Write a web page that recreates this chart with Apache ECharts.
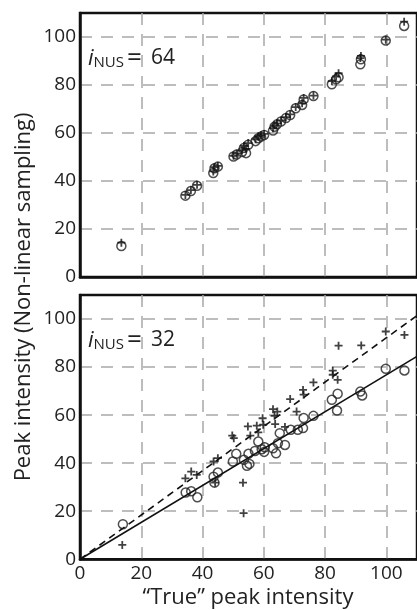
<!DOCTYPE html>
<html>
<head>
<meta charset="utf-8">
<script src="https://cdn.jsdelivr.net/npm/echarts@6/dist/echarts.min.js"></script>
<style>html,body{margin:0;padding:0;background:#fff}#c{width:417px;height:610px}</style>
</head>
<body>
<div id="c"></div>
<script>
// ---- data ----
const xTicks = [0, 20, 40, 60, 80, 100];
const yTicks = [0, 20, 40, 60, 80, 100];

// top panel (i_NUS = 64): true intensity vs. NUS intensity
const topTrue   = [13.5, 34.4, 36.2, 38.2, 43.5, 43.9, 45.0, 50.1, 51.1, 52.9, 54.2, 53.5, 54.9, 57.3, 58.2, 59.1, 60.1, 63.0, 63.5, 64.3, 65.6, 67.2, 68.6, 70.4, 72.5, 73.0, 76.2, 82.2, 83.6, 84.4, 91.5, 91.7, 99.8, 105.8];
const topCircle = [12.9, 33.9, 35.8, 38.0, 43.3, 45.3, 46.0, 50.2, 51.0, 52.1, 51.6, 53.8, 55.1, 56.6, 57.8, 58.5, 59.2, 61.0, 62.6, 63.6, 64.8, 66.2, 67.5, 70.3, 71.7, 74.0, 75.4, 80.3, 82.4, 83.2, 88.6, 90.7, 98.5, 104.6];
const topCross  = [14.3, 34.2, 36.2, 38.4, 44.0, 45.8, 46.3, 50.5, 51.4, 52.8, 53.4, 54.6, 55.8, 57.4, 58.6, 59.0, 59.6, 62.0, 63.2, 64.0, 65.2, 66.6, 67.8, 70.8, 72.4, 74.6, 75.6, 81.6, 83.5, 84.9, 91.2, 92.1, 98.9, 106.4];

// bottom panel (i_NUS = 32)
const botCircleX = [14.0, 34.5, 36.3, 38.3, 43.6, 43.9, 45.0, 49.9, 51.0, 53.5, 54.5, 55.3, 55.0, 57.1, 58.2, 59.3, 60.1, 60.3, 63.0, 64.0, 64.6, 65.2, 66.9, 68.8, 71.1, 73.0, 72.8, 76.2, 82.2, 84.1, 83.9, 91.5, 92.1, 99.8, 105.9];
const botCircleY = [14.6, 27.8, 28.3, 25.8, 34.4, 31.9, 36.1, 40.7, 43.9, 41.4, 38.9, 39.7, 43.9, 45.1, 49.0, 45.8, 44.7, 46.6, 46.2, 44.1, 48.3, 52.5, 47.6, 53.9, 53.9, 58.8, 54.6, 59.7, 66.4, 68.9, 61.9, 69.8, 68.2, 79.3, 78.6];
const botCrossX  = [13.8, 34.4, 36.3, 38.1, 43.6, 44.1, 45.0, 49.7, 50.2, 53.2, 53.4, 54.8, 55.6, 57.7, 58.2, 59.6, 59.8, 63.0, 63.5, 63.7, 64.4, 66.9, 68.6, 70.7, 72.8, 73.0, 76.2, 82.5, 82.5, 84.1, 84.4, 91.8, 99.8, 105.9];
const botCrossY  = [6.0, 33.7, 36.5, 35.1, 40.7, 31.9, 42.1, 51.5, 50.4, 31.9, 19.2, 55.3, 51.5, 55.6, 52.8, 58.7, 56.0, 62.5, 59.7, 56.3, 61.5, 55.1, 66.7, 61.5, 70.5, 68.5, 73.6, 78.5, 76.8, 74.7, 88.9, 89.0, 94.8, 93.4];

// fitted lines through the origin (bottom panel)
const fitX = [0, 110];
const solidSlope = 0.768;
const dashedSlope = 0.922;

// ---- chart ----
const chart = echarts.init(document.getElementById('c'), null, {renderer: 'canvas'});
const FONT = '"Open Sans", "Noto Sans", sans-serif';
const plusPath = 'path://M3.1,0H4.9V3.1H8V4.9H4.9V8H3.1V4.9H0V3.1H3.1Z';

const pair = (xs, ys) => xs.map((x, i) => [x, ys[i]]);

const gridLine = {show: true, showMinLine: false, showMaxLine: false,
  lineStyle: {color: '#a8a8a8', width: 1.5, type: [12, 9]}};

function xAxisCfg(gi, showLabels) {
  return {
    type: 'value', gridIndex: gi, min: 0, max: 110, interval: 20,
    axisLine: {show: true, onZero: false, lineStyle: {color: '#111', width: 2.5}},
    axisTick: {show: false},
    axisLabel: {show: showLabels, fontFamily: FONT, fontSize: 19, color: '#222', margin: 5,
      showMaxLabel: false,
      formatter: v => (xTicks.indexOf(v) >= 0 ? String(v) : '')},
    splitLine: gridLine
  };
}
function yAxisCfg(gi) {
  return {
    type: 'value', gridIndex: gi, min: 0, max: 110, interval: 20,
    axisLine: {show: true, onZero: false, lineStyle: {color: '#111', width: 2.5}},
    axisTick: {show: false},
    axisLabel: {fontFamily: FONT, fontSize: 19, color: '#222', margin: 4,
      showMaxLabel: false,
      formatter: v => (yTicks.indexOf(v) >= 0 ? String(v) : '')},
    splitLine: gridLine
  };
}

const circleStyle = {color: 'rgba(0,0,0,0)', borderColor: '#222', borderWidth: 1.5};
const crossStyle = {color: '#111'};

function nusLabel(yMid, num) {
  return [
    {type: 'text', x: 88, y: yMid, z: 10, style: {text: 'i', font: 'italic 22px ' + FONT, fill: '#222', verticalAlign: 'middle'}},
    {type: 'text', x: 93.5, y: yMid + 4, z: 10, style: {text: 'NUS', font: '15px ' + FONT, fill: '#222', verticalAlign: 'middle'}},
    {type: 'text', x: 127, y: yMid, z: 10, style: {text: '=', font: '26px ' + FONT, fill: '#222', verticalAlign: 'middle'}},
    {type: 'text', x: 151, y: yMid, z: 10, style: {text: num, font: '21px ' + FONT, fill: '#222', verticalAlign: 'middle'}}
  ];
}

const option = {
  animation: false,
  backgroundColor: '#fff',
  grid: [
    {left: 80, top: 13, width: 346.5, height: 264, show: true, borderColor: '#111', borderWidth: 2.5, backgroundColor: 'transparent'},
    {left: 80, top: 295, width: 346.5, height: 264.3, show: true, borderColor: '#111', borderWidth: 2.5, backgroundColor: 'transparent'}
  ],
  xAxis: [xAxisCfg(0, false), xAxisCfg(1, true)],
  yAxis: [yAxisCfg(0), yAxisCfg(1)],
  series: [
    {type: 'scatter', xAxisIndex: 0, yAxisIndex: 0, data: pair(topTrue, topCircle), symbol: 'circle', symbolSize: 9, itemStyle: circleStyle},
    {type: 'scatter', xAxisIndex: 0, yAxisIndex: 0, data: pair(topTrue, topCross), symbol: plusPath, symbolSize: 8, itemStyle: crossStyle},
    {type: 'line', xAxisIndex: 1, yAxisIndex: 1, data: fitX.map(x => [x, x * solidSlope]), showSymbol: false, symbol: 'none',
      lineStyle: {color: '#111', width: 1.6, type: 'solid'}},
    {type: 'line', xAxisIndex: 1, yAxisIndex: 1, data: fitX.map(x => [x, x * dashedSlope]), showSymbol: false, symbol: 'none',
      lineStyle: {color: '#111', width: 1.6, type: [7, 5]}},
    {type: 'scatter', xAxisIndex: 1, yAxisIndex: 1, data: pair(botCircleX, botCircleY), symbol: 'circle', symbolSize: 9, itemStyle: circleStyle},
    {type: 'scatter', xAxisIndex: 1, yAxisIndex: 1, data: pair(botCrossX, botCrossY), symbol: plusPath, symbolSize: 8, itemStyle: crossStyle}
  ],
  graphic: [
    ...nusLabel(58.5, '64'),
    ...nusLabel(340.5, '32'),
    {type: 'text', x: 24, y: 297, rotation: Math.PI / 2,
      style: {text: 'Peak intensity (Non-linear sampling)', font: '22px ' + FONT, fill: '#222', align: 'center', verticalAlign: 'middle'}},
    {type: 'text', x: 248, y: 598,
      style: {text: '\u201CTrue\u201D peak intensity', font: '22px ' + FONT, fill: '#222', align: 'center', verticalAlign: 'middle'}}
  ]
};
chart.setOption(option);
</script>
</body>
</html>
